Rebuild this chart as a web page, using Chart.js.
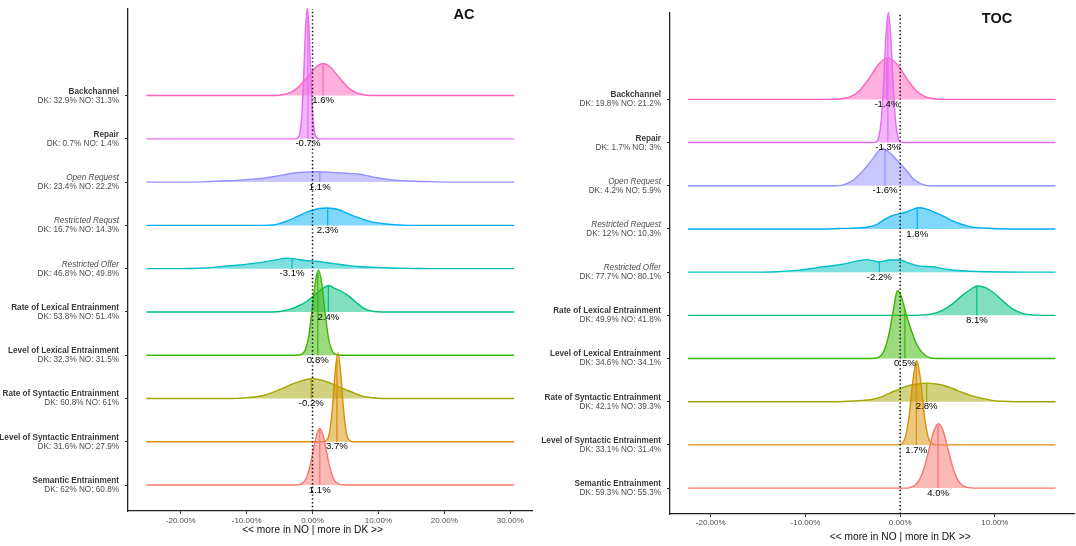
<!DOCTYPE html>
<html>
<head>
<meta charset="utf-8">
<script src="https://cdn.jsdelivr.net/npm/chart.js@4.4.1/dist/chart.umd.min.js"></script>
<style>
  html, body { margin: 0; padding: 0; background: #fff; }
  #wrap { position: relative; width: 1076px; height: 546px; }
  .panel { position: absolute; top: 0; width: 538px; height: 546px; }
  #panel-ac { left: 0; }
  #panel-toc { left: 538px; }
</style>
</head>
<body>
<div id="wrap">
  <div class="panel" id="panel-ac"><canvas id="chart-ac" width="538" height="546"></canvas></div>
  <div class="panel" id="panel-toc"><canvas id="chart-toc" width="538" height="546"></canvas></div>
</div>
<script>
/* ============================================================
   Ridgeline: DK vs NO differences, AC and TOC panels
   ============================================================ */

const FONT = "'Liberation Sans', Arial, Helvetica, sans-serif";

// rows, top to bottom
const acNames  = ["Backchannel", "Repair", "Open Request", "Restricted Requst", "Restricted Offer",
                  "Rate of Lexical Entrainment", "Level of Lexical Entrainment",
                  "Rate of Syntactic Entrainment", "Level of Syntactic Entrainment", "Semantic Entrainment"];
const tocNames = ["Backchannel", "Repair", "Open Request", "Restricted Request", "Restricted Offer",
                  "Rate of Lexical Entrainment", "Level of Lexical Entrainment",
                  "Rate of Syntactic Entrainment", "Level of Syntactic Entrainment", "Semantic Entrainment"];
const italicRows = [false, false, true, true, true, false, false, false, false, false];
const rowValues  = [10, 9, 8, 7, 6, 5, 4, 3, 2, 1];

const acStats  = ["DK: 32.9% NO: 31.3%", "DK: 0.7% NO: 1.4%", "DK: 23.4% NO: 22.2%", "DK: 16.7% NO: 14.3%",
                  "DK: 46.8% NO: 49.8%", "DK: 53.8% NO: 51.4%", "DK: 32.3% NO: 31.5%", "DK: 60.8% NO: 61%",
                  "DK: 31.6% NO: 27.9%", "DK: 62% NO: 60.8%"];
const tocStats = ["DK: 19.8% NO: 21.2%", "DK: 1.7% NO: 3%", "DK: 4.2% NO: 5.9%", "DK: 12% NO: 10.3%",
                  "DK: 77.7% NO: 80.1%", "DK: 49.9% NO: 41.8%", "DK: 34.6% NO: 34.1%", "DK: 42.1% NO: 39.3%",
                  "DK: 33.1% NO: 31.4%", "DK: 59.3% NO: 55.3%"];

const acMedians  = [1.6, -0.7, 1.1, 2.3, -3.1, 2.4, 0.8, -0.2, 3.7, 1.1];
const tocMedians = [-1.4, -1.3, -1.6, 1.8, -2.2, 8.1, 0.5, 2.8, 1.7, 4.0];

const acTicks  = [-20, -10, 0, 10, 20, 30];
const tocTicks = [-20, -10, 0, 10];

const rowColors = ["#FF62BC", "#E76BF3", "#9590FF", "#00B0F6", "#00BFC4",
                   "#00BF7D", "#39B600", "#A3A500", "#D89000", "#F8766D"];

// density outlines: [difference %, height in row units]
const acCurves = [
  [[-25.2,0],[-5.5,0],[-4.4,0.025],[-3.4,0.07],[-2.4,0.16],[-1.4,0.32],[-0.4,0.5],[0.6,0.67],[1.6,0.74],[2.6,0.67],[3.6,0.5],[4.6,0.32],[5.6,0.16],[6.6,0.07],[7.6,0.025],[8.8,0],[30.6,0]],
  [[-25.2,0],[-2.6,0],[-2.1,0.05],[-1.8,0.26],[-1.55,0.75],[-1.3,1.63],[-1.05,2.59],[-0.8,3.02],[-0.55,2.59],[-0.3,1.63],[-0.05,0.75],[0.2,0.26],[0.5,0.05],[1.0,0],[30.6,0]],
  [[-25.2,0],[-19,0],[-16,0.01],[-13.8,0.025],[-11.5,0.04],[-9.6,0.06],[-7.5,0.09],[-5.4,0.14],[-2.8,0.21],[-1,0.23],[0.5,0.24],[2,0.235],[3.5,0.22],[5.5,0.2],[7.2,0.18],[8.5,0.14],[9.8,0.1],[11.5,0.06],[13,0.04],[15.5,0.02],[18,0.01],[21,0],[30.6,0]],
  [[-25.2,0],[-7.5,0],[-6,0.01],[-5,0.04],[-3.9,0.1],[-2.8,0.17],[-1.7,0.25],[-0.8,0.31],[0,0.35],[1,0.39],[2.2,0.4],[3.2,0.39],[4.2,0.35],[5.1,0.29],[6.4,0.21],[7.7,0.14],[9,0.08],[10.3,0.05],[11.5,0.025],[12.9,0.01],[14.5,0],[30.6,0]],
  [[-25.2,0],[-20,0],[-17,0.01],[-15,0.03],[-13.8,0.05],[-11.5,0.08],[-9.6,0.11],[-8,0.14],[-6.4,0.18],[-5,0.22],[-3.9,0.24],[-2.5,0.22],[-1.2,0.19],[0.5,0.17],[2,0.14],[3.5,0.11],[5.1,0.08],[7,0.05],[9.3,0.03],[12,0.015],[15.5,0.005],[18,0],[30.6,0]],
  [[-25.2,0],[-6,0],[-4.9,0.01],[-3.5,0.06],[-2.3,0.13],[-1,0.23],[0,0.35],[1,0.48],[1.8,0.57],[2.5,0.61],[3.3,0.55],[4.3,0.48],[5.2,0.4],[6.1,0.29],[6.9,0.18],[7.7,0.09],[8.5,0.04],[9.3,0.01],[10.5,0],[30.6,0]],
  [[-25.2,0],[-2.6,0],[-1.6,0.026],[-1.1,0.124],[-0.6,0.415],[-0.1,0.99],[0.4,1.66],[0.9,1.97],[1.4,1.66],[1.9,0.99],[2.4,0.415],[2.9,0.124],[3.4,0.026],[4.4,0],[30.6,0]],
  [[-25.2,0],[-12,0],[-10.7,0.01],[-9,0.03],[-7.5,0.07],[-6.4,0.12],[-5.4,0.18],[-4,0.27],[-2.8,0.35],[-1.4,0.42],[0,0.46],[1.2,0.43],[2.5,0.37],[3.8,0.28],[5.1,0.2],[6.4,0.12],[7.7,0.05],[9,0.02],[10.5,0],[30.6,0]],
  [[-25.2,0],[1.6,0],[2.25,0.058],[2.65,0.277],[3.05,0.84],[3.45,1.64],[3.85,2.05],[4.25,1.64],[4.65,0.84],[5.05,0.277],[5.45,0.058],[6.1,0],[30.6,0]],
  [[-25.2,0],[-2.4,0],[-1.9,0.014],[-1.4,0.057],[-0.9,0.176],[-0.4,0.422],[0.1,0.788],[0.6,1.147],[1.1,1.3],[1.6,1.147],[2.1,0.788],[2.6,0.422],[3.1,0.176],[3.6,0.057],[4.1,0.014],[4.8,0],[30.6,0]]
];

const tocCurves = [
  [[-22.4,0],[-7.8,0],[-6.3,0.013],[-5.3,0.06],[-4.3,0.202],[-3.3,0.48],[-2.3,0.808],[-1.3,0.96],[-0.3,0.808],[0.7,0.48],[1.7,0.202],[2.7,0.06],[3.7,0.013],[5,0],[16.4,0]],
  [[-22.4,0],[-2.9,0],[-2.5,0.023],[-2.25,0.13],[-2.0,0.52],[-1.75,1.38],[-1.5,2.48],[-1.25,3.02],[-1.0,2.48],[-0.75,1.38],[-0.5,0.52],[-0.25,0.13],[0,0.023],[0.4,0],[16.4,0]],
  [[-22.4,0],[-7,0],[-6.2,0.01],[-5.5,0.06],[-4.9,0.14],[-4.4,0.24],[-3.8,0.38],[-3.3,0.51],[-2.8,0.65],[-2.3,0.8],[-1.85,0.86],[-1.3,0.8],[-0.8,0.7],[-0.2,0.56],[0.3,0.44],[0.9,0.29],[1.4,0.16],[2.0,0.07],[2.5,0.02],[3.2,0],[16.4,0]],
  [[-22.4,0],[-8,0],[-6.5,0.01],[-5,0.02],[-3.5,0.04],[-2.5,0.1],[-1.5,0.24],[-0.5,0.33],[0.5,0.38],[1.2,0.44],[1.95,0.49],[2.8,0.46],[3.6,0.39],[4.5,0.3],[5.4,0.2],[6.3,0.12],[7.2,0.06],[8.2,0.03],[9,0.02],[10.5,0.005],[12.5,0],[16.4,0]],
  [[-22.4,0],[-15.5,0],[-13,0.01],[-11,0.04],[-9.5,0.08],[-8.3,0.12],[-6.8,0.16],[-5.5,0.21],[-4.5,0.26],[-3.5,0.29],[-2.8,0.26],[-2.2,0.24],[-1.1,0.28],[0,0.28],[0.8,0.22],[1.8,0.15],[2.7,0.13],[3.6,0.12],[4.5,0.08],[5.4,0.05],[7,0.025],[9,0.01],[11,0.003],[13,0],[16.4,0]],
  [[-22.4,0],[1.5,0],[2.5,0.01],[3.5,0.04],[4.5,0.12],[5.5,0.26],[6.5,0.45],[7.3,0.58],[8.2,0.68],[9,0.64],[10,0.5],[11,0.3],[12,0.13],[13,0.04],[14,0.01],[15,0],[16.4,0]],
  [[-22.4,0],[-3,0],[-2.4,0.02],[-1.9,0.1],[-1.5,0.3],[-1.1,0.65],[-0.7,1.15],[-0.3,1.57],[0.1,1.45],[0.6,1.05],[1.1,0.7],[1.6,0.4],[2.1,0.2],[2.6,0.08],[3.1,0.02],[3.8,0],[16.4,0]],
  [[-22.4,0],[-7,0],[-5.5,0.01],[-4,0.03],[-3,0.05],[-2,0.11],[-1.1,0.2],[-0.2,0.28],[0.7,0.36],[1.8,0.41],[2.85,0.43],[3.8,0.41],[4.7,0.37],[5.6,0.3],[6.5,0.22],[7.5,0.14],[8.6,0.08],[9.7,0.03],[10.8,0.01],[12,0],[16.4,0]],
  [[-22.4,0],[-0.3,0],[0.15,0.028],[0.55,0.18],[0.95,0.68],[1.35,1.5],[1.75,1.95],[2.15,1.5],[2.55,0.68],[2.95,0.18],[3.35,0.028],[3.9,0],[16.4,0]],
  [[-22.4,0],[0.8,0],[1.05,0.017],[1.55,0.065],[2.05,0.2],[2.55,0.484],[3.05,0.9],[3.55,1.315],[4.05,1.49],[4.55,1.315],[5.05,0.9],[5.55,0.484],[6.05,0.2],[6.55,0.065],[7.05,0.017],[7.8,0],[16.4,0]]
];

function rgba(hex, a) {
  const n = parseInt(hex.slice(1), 16);
  return `rgba(${(n >> 16) & 255},${(n >> 8) & 255},${n & 255},${a})`;
}

function heightAt(curve, x) {
  for (let i = 1; i < curve.length; i++) {
    const [x0, h0] = curve[i - 1], [x1, h1] = curve[i];
    if (x >= x0 && x <= x1) return x1 === x0 ? h1 : h0 + (h1 - h0) * (x - x0) / (x1 - x0);
  }
  return 0;
}

function makePanel(canvasId, p) {
  const datasets = p.curves.map((c, i) => ({
    ridge: i,
    data: c.map(([x, h]) => ({ x, y: rowValues[i] + h })),
    borderColor: rowColors[i],
    backgroundColor: rgba(rowColors[i], 0.5),
    borderWidth: 1.4,
    pointRadius: 0,
    fill: { value: rowValues[i] },
    cubicInterpolationMode: "monotone",
    clip: false,
    order: 10 - i
  }));

  // dotted zero reference
  datasets.push({
    data: [{ x: 0, y: 0.4 }, { x: 0, y: 12 }],
    borderColor: "#111",
    borderWidth: 1.5,
    borderDash: [1.4, 2.4],
    pointRadius: 0,
    fill: false,
    order: 0
  });

  const ridgePlugin = {
    id: "ridgeDecor",
    afterDatasetDraw(chart, args) {
      const ds = chart.data.datasets[args.index];
      if (ds.ridge == null) return;
      const i = ds.ridge;
      const xs = chart.scales.x, ys = chart.scales.y;
      const m = p.medians[i];
      const px = xs.getPixelForValue(m);
      const ctx = chart.ctx;
      ctx.save();
      ctx.strokeStyle = rowColors[i];
      ctx.lineWidth = 1.2;
      ctx.beginPath();
      ctx.moveTo(px, ys.getPixelForValue(rowValues[i]));
      ctx.lineTo(px, ys.getPixelForValue(rowValues[i] + heightAt(p.curves[i], m)));
      ctx.stroke();
      ctx.restore();
    },
    afterDatasetsDraw(chart) {
      const xs = chart.scales.x, ys = chart.scales.y;
      const ctx = chart.ctx;
      ctx.save();
      ctx.font = `9.6px ${FONT}`;
      ctx.fillStyle = "#000";
      ctx.textAlign = "center";
      ctx.textBaseline = "middle";
      p.medians.forEach((m, i) => {
        ctx.fillText(m.toFixed(1) + "%", xs.getPixelForValue(m), ys.getPixelForValue(rowValues[i]) + 5);
      });
      ctx.restore();
    },
    afterDraw(chart) {
      const { ctx, chartArea } = chart;
      const xs = chart.scales.x, ys = chart.scales.y;
      ctx.save();
      ctx.textAlign = "right";
      ctx.textBaseline = "middle";
      p.names.forEach((name, i) => {
        const y = ys.getPixelForValue(rowValues[i]);
        ctx.fillStyle = italicRows[i] ? "#4d4d4d" : "#3a3a3a";
        ctx.font = (italicRows[i] ? "italic " : "bold ") + `8.2px ${FONT}`;
        ctx.fillText(name, chartArea.left - 9, y - 4.3);
        ctx.fillStyle = "#4d4d4d";
        ctx.font = `8.2px ${FONT}`;
        ctx.fillText(p.stats[i], chartArea.left - 9, y + 4.7);
      });

      // axis title
      ctx.fillStyle = "#111";
      ctx.textAlign = "center";
      ctx.font = `10.2px ${FONT}`;
      ctx.fillText("<< more in NO | more in DK >>", xs.getPixelForValue(0), chartArea.bottom + p.axisTitleDy);

      // panel tag
      ctx.font = `bold 14.5px ${FONT}`;
      ctx.fillText(p.title, chartArea.right - p.titleDx, chartArea.top + 6);
      ctx.restore();
    }
  };

  return new Chart(document.getElementById(canvasId), {
    type: "line",
    data: { datasets },
    plugins: [ridgePlugin],
    options: {
      responsive: false,
      animation: false,
      devicePixelRatio: 1,
      layout: { padding: { top: p.padTop, right: p.padRight, left: 0, bottom: 0 } },
      plugins: { legend: { display: false }, tooltip: { enabled: false } },
      scales: {
        x: {
          type: "linear",
          min: p.xMin,
          max: p.xMax,
          afterBuildTicks: s => { s.ticks = p.xTicks.map(v => ({ value: v })); },
          afterFit: s => { s.height = p.xAxisHeight; },
          ticks: {
            callback: v => v.toFixed(2) + "%",
            font: { size: 8, family: FONT },
            color: "#4d4d4d",
            padding: p.tickPad,
            maxRotation: 0,
            autoSkip: false
          },
          grid: { drawOnChartArea: false, drawTicks: true, tickLength: 3, color: "#333" },
          border: { display: true, color: "#222", width: 1.3 }
        },
        y: {
          type: "linear",
          min: 0.4,
          max: 12,
          afterBuildTicks: s => { s.ticks = rowValues.map(v => ({ value: v })); },
          afterFit: s => { s.width = p.yAxisWidth; },
          ticks: { callback: () => "", padding: 0 },
          grid: { drawOnChartArea: false, drawTicks: true, tickLength: 3, color: "#333" },
          border: { display: true, color: "#222", width: 1.3 }
        }
      }
    }
  });
}

// ── Init ──
makePanel("chart-ac", {
  names: acNames, stats: acStats, medians: acMedians, curves: acCurves,
  xMin: -28.0, xMax: 33.3, xTicks: acTicks,
  yAxisWidth: 128, xAxisHeight: 35, padTop: 9, padRight: 6, tickPad: 2,
  title: "AC", titleDx: 68, axisTitleDy: 19
});

makePanel("chart-toc", {
  names: tocNames, stats: tocStats, medians: tocMedians, curves: tocCurves,
  xMin: -24.3, xMax: 18.35, xTicks: tocTicks,
  yAxisWidth: 132, xAxisHeight: 32, padTop: 13, padRight: 2, tickPad: 1,
  title: "TOC", titleDx: 77, axisTitleDy: 23
});
</script>
</body>
</html>
